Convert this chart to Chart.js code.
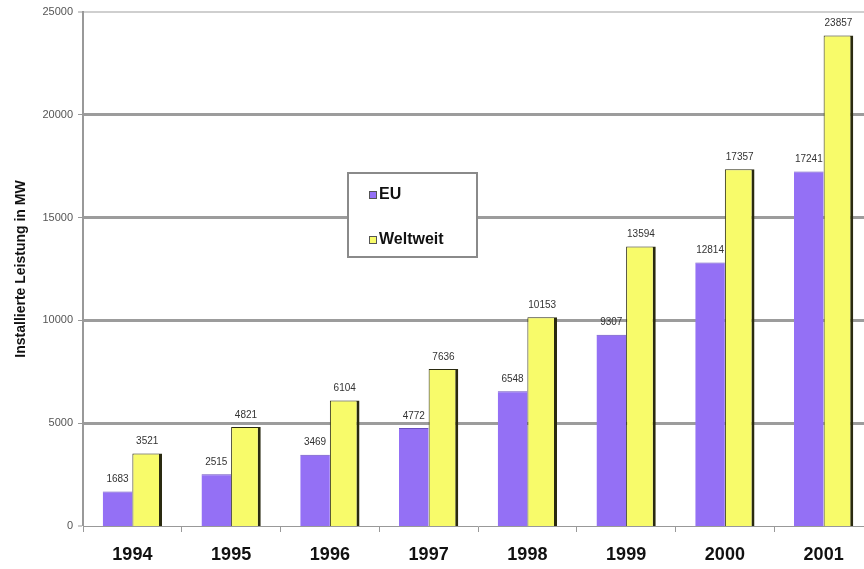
<!DOCTYPE html>
<html>
<head>
<meta charset="utf-8">
<script src="https://cdn.jsdelivr.net/npm/chart.js@4"></script>
<style>
  html, body { margin: 0; padding: 0; background: #fff; overflow: hidden; }
  #chart { display: block; }
</style>
</head>
<body>
<canvas id="chart" width="874" height="569"></canvas>
<script>
// Daten
const years = ['1994', '1995', '1996', '1997', '1998', '1999', '2000', '2001'];
const euValues = [1683, 2515, 3469, 4772, 6548, 9307, 12814, 17241];
const weltweitValues = [3521, 4821, 6104, 7636, 10153, 13594, 17357, 23857];
const seriesNames = ['EU', 'Weltweit'];
const yMax = 25000;
const yStep = 5000;

const purple = '#9470f5';
const yellow = '#f8fb6a';

function drawValues(chart, index) {
    const ctx = chart.ctx;
    const data = chart.data.datasets[index].data;
    const meta = chart.getDatasetMeta(index);
    ctx.save();
    ctx.font = '10px "Liberation Sans", Arial, sans-serif';
    ctx.fillStyle = '#333';
    ctx.textAlign = 'center';
    ctx.textBaseline = 'bottom';
    meta.data.forEach((bar, i) => {
        ctx.fillText(String(data[i]), bar.x, bar.y - 7);
    });
    ctx.restore();
}

// EU-Zahlen vor den Balken zeichnen, damit die gelben Balken sie teilweise überdecken
const valueLabels = {
    id: 'valueLabels',
    beforeDatasetsDraw(chart) { drawValues(chart, 0); },
    afterDatasetsDraw(chart) { drawValues(chart, 1); }
};

// Legende als Kasten mitten im Diagramm
const boxLegend = {
    id: 'boxLegend',
    afterDraw(chart) {
        const ctx = chart.ctx;
        const x = 348, y = 173, w = 129, h = 84;
        ctx.save();
        ctx.fillStyle = '#fff';
        ctx.fillRect(x, y, w, h);
        ctx.strokeStyle = '#8a8a8a';
        ctx.lineWidth = 2;
        ctx.strokeRect(x, y, w, h);
        ctx.font = 'bold 16px "Liberation Sans", Arial, sans-serif';
        ctx.textBaseline = 'middle';
        chart.data.datasets.forEach((ds, i) => {
            const cy = y + 22 + i * 45;
            ctx.fillStyle = ds.backgroundColor;
            ctx.fillRect(x + 21, cy - 4, 8, 8);
            ctx.strokeStyle = '#555';
            ctx.lineWidth = 1;
            ctx.strokeRect(x + 21.5, cy - 3.5, 7, 7);
            ctx.fillStyle = '#111';
            ctx.fillText(ds.label, x + 31, cy);
        });
        ctx.restore();
    }
};

new Chart(document.getElementById('chart'), {
    type: 'bar',
    data: {
        labels: years,
        datasets: [
            {
                label: seriesNames[0],
                data: euValues,
                backgroundColor: purple,
                borderColor: '#6a4fc0',
                borderWidth: { top: 1, left: 0, right: 0, bottom: 0 },
                borderSkipped: false
            },
            {
                label: seriesNames[1],
                data: weltweitValues,
                backgroundColor: yellow,
                borderColor: '#2a2a10',
                borderWidth: { top: 1, left: 1, right: 3, bottom: 0 },
                borderSkipped: false
            }
        ]
    },
    options: {
        responsive: false,
        animation: false,
        layout: { padding: { top: 12, right: 1, left: 0, bottom: 0 } },
        datasets: { bar: { categoryPercentage: 0.6, barPercentage: 1.0 } },
        plugins: {
            legend: { display: false },
            tooltip: { enabled: false }
        },
        scales: {
            x: {
                afterFit(scale) { scale.height = 43; },
                grid: {
                    offset: true,
                    drawOnChartArea: false,
                    tickLength: 6,
                    color: '#999'
                },
                border: { color: '#999', width: 1 },
                ticks: {
                    color: '#111',
                    padding: 12,
                    font: { family: '"Liberation Sans", Arial, sans-serif', size: 18, weight: 'bold' }
                }
            },
            y: {
                min: 0,
                max: yMax,
                afterFit(scale) { scale.width = 83; },
                grid: {
                    lineWidth: (c) => c.tick.value === 0 ? 0 : (c.tick.value === yMax ? 2 : 3),
                    color: (c) => c.tick.value === yMax ? '#cfcfcf' : '#9c9c9c',
                    tickLength: 5,
                    tickWidth: 1,
                    tickColor: '#999'
                },
                border: { color: '#999', width: 2 },
                ticks: {
                    stepSize: yStep,
                    color: '#555',
                    padding: 5,
                    font: { family: '"Liberation Sans", Arial, sans-serif', size: 11 },
                    callback: (v) => String(v)
                },
                title: {
                    display: true,
                    text: 'Installierte Leistung in MW',
                    color: '#111',
                    padding: { top: 13, bottom: 0 },
                    font: { family: '"Liberation Sans", Arial, sans-serif', size: 14, weight: 'bold' }
                }
            }
        }
    },
    plugins: [valueLabels, boxLegend]
});
</script>
</body>
</html>
